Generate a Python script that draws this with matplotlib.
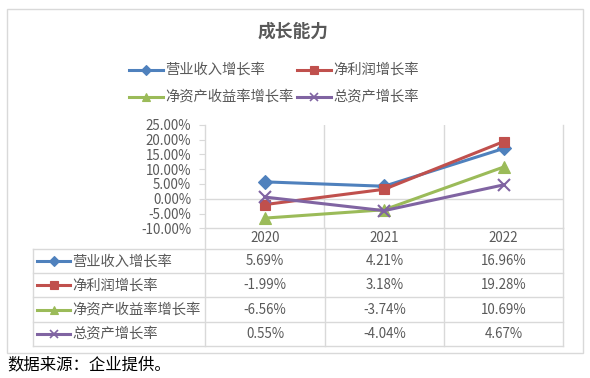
import matplotlib
matplotlib.use("Agg")
import matplotlib.pyplot as plt
from matplotlib.lines import Line2D
from matplotlib.patches import Rectangle

plt.rcParams['font.family'] = ['Noto Sans CJK SC', 'DejaVu Sans']

title = "成长能力"
categories = ["2020", "2021", "2022"]
series_names = ["营业收入增长率", "净利润增长率", "净资产收益率增长率", "总资产增长率"]
revenue_growth = [5.69, 4.21, 16.96]
profit_growth = [-1.99, 3.18, 19.28]
roe_growth = [-6.56, -3.74, 10.69]
asset_growth = [0.55, -4.04, 4.67]
y_ticks = [-10, -5, 0, 5, 10, 15, 20, 25]
footnote = "数据来源：企业提供。"

series_values = [revenue_growth, profit_growth, roe_growth, asset_growth]
colors = ["#4F81BD", "#C0504D", "#9BBB59", "#8064A2"]
markers = ["D", "s", "^", "x"]
msizes = [7, 7.5, 8, 8]
grid_c = "#D9D9D9"
text_c = "#595959"

W, H = 590, 378
fig = plt.figure(figsize=(W / 100, H / 100), dpi=100)

# overlay in pixel coordinates
ov = fig.add_axes([0, 0, 1, 1])
ov.set_xlim(0, W)
ov.set_ylim(H, 0)
ov.axis("off")
ov.patch.set_alpha(0)

# chart frame
ov.add_patch(Rectangle((7, 9), 576, 344, fill=False, edgecolor=grid_c, lw=1))

# title
ov.text(293, 32, title, ha="center", va="center", fontsize=12.8,
        fontweight="bold", color=text_c)

# legend
leg_pos = [(129, 70), (297, 70), (129, 97), (297, 97)]
for i, (lx, ly) in enumerate(leg_pos):
    ov.add_line(Line2D([lx, lx + 34], [ly, ly], color=colors[i], lw=2.2))
    ov.add_line(Line2D([lx + 17], [ly], color=colors[i], marker=markers[i],
                       markersize=5.5, markeredgewidth=1.2 if markers[i] == "x" else 0.8))
    ov.text(lx + 36, ly, series_names[i], ha="left", va="center",
            fontsize=10.3, color=text_c)

# plot area
pl, pr, pt, pb = 205, 563.3, 124.7, 228.3
ax = fig.add_axes([pl / W, 1 - pb / H, (pr - pl) / W, (pb - pt) / H])
ax.patch.set_alpha(0)
ax.set_xlim(-0.5, len(categories) - 0.5)
ax.set_ylim(y_ticks[0] / 100, y_ticks[-1] / 100)
for s in ["top"]:
    ax.spines[s].set_visible(False)
for s in ["left", "right", "bottom"]:
    ax.spines[s].set_color(grid_c)
    ax.spines[s].set_linewidth(1)
ax.set_xticks([])
ax.set_yticks([t / 100 for t in y_ticks])
ax.set_yticklabels(["%.2f%%" % t for t in y_ticks], fontsize=9.6, color=text_c)
ax.tick_params(axis="y", length=4, color=grid_c, pad=6)
ax.axhline(0, color=grid_c, lw=1, zorder=1)
for xb in [0.5, 1.5]:
    ax.axvline(xb, color=grid_c, lw=1, zorder=1)

xs = list(range(len(categories)))
for i, vals in enumerate(series_values):
    ax.plot(xs, [v / 100 for v in vals], color=colors[i], lw=2.2,
            marker=markers[i], markersize=msizes[i],
            markeredgewidth=1.5 if markers[i] == "x" else 0.8,
            clip_on=False, zorder=3)

# data table
col_edges = [205, 325, 444, 563.3]
col_centers = [(col_edges[j] + col_edges[j + 1]) / 2 for j in range(3)]
row_lines = [249, 273.3, 297.3, 321.7, 346]
tl = 33
for y in row_lines:
    ov.add_line(Line2D([tl, col_edges[-1]], [y, y], color=grid_c, lw=1))
ov.add_line(Line2D([tl, tl], [row_lines[0], row_lines[-1]], color=grid_c, lw=1))
for xe in col_edges:
    ov.add_line(Line2D([xe, xe], [pb, row_lines[-1]], color=grid_c, lw=1))

for j, c in enumerate(categories):
    ov.text(col_centers[j], 238.5, c, ha="center", va="center",
            fontsize=9.6, color=text_c)

for i, vals in enumerate(series_values):
    yc = (row_lines[i] + row_lines[i + 1]) / 2
    ov.add_line(Line2D([37, 70], [yc, yc], color=colors[i], lw=2.2))
    ov.add_line(Line2D([53.5], [yc], color=colors[i], marker=markers[i],
                       markersize=5.5, markeredgewidth=1.2 if markers[i] == "x" else 0.8))
    ov.text(72, yc, series_names[i], ha="left", va="center",
            fontsize=10.3, color=text_c)
    for j, v in enumerate(vals):
        ov.text(col_centers[j], yc, "%.2f%%" % v, ha="center", va="center",
                fontsize=9.6, color=text_c)

ov.text(7, 365, footnote, ha="left", va="center", fontsize=11.8, color="black")

fig.savefig("out.png", dpi=100)
